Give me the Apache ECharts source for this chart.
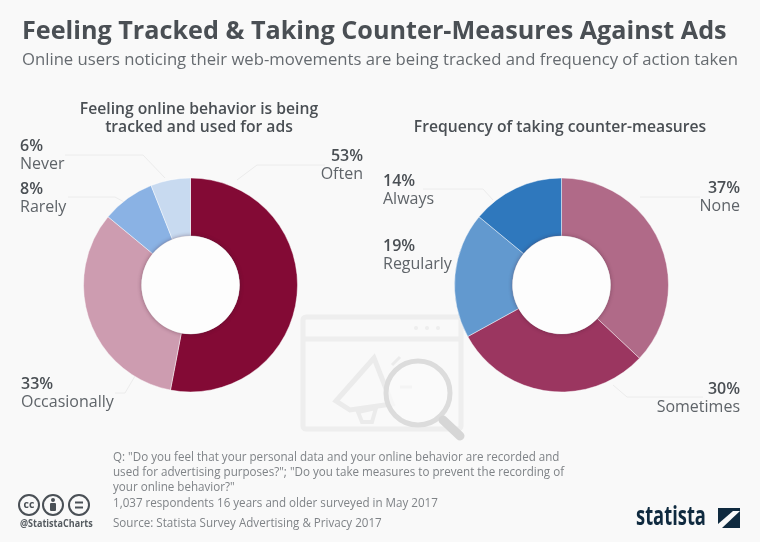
<!DOCTYPE html>
<html>
<head>
<meta charset="utf-8">
<style>html,body{margin:0;padding:0;background:#f9f9f9}#main{width:760px;height:542px}</style>
<script src="https://cdn.jsdelivr.net/npm/echarts@6/dist/echarts.min.js"></script>
</head>
<body>
<div id="main"></div>
<script>
const trackedNames = ['Often', 'Occasionally', 'Rarely', 'Never']
const trackedValues = [53, 33, 8, 6]
const measureNames = ['None', 'Sometimes', 'Regularly', 'Always']
const measureValues = [37, 30, 19, 14]

const trackedColors = ['#830a35', '#cd9cb0', '#8ab2e4', '#c8daf0']
const measureColors = ['#b06a88', '#9b3660', '#6299cf', '#2f78bd']

// label anchor + leader line for each slice
const trackedLabels = [
  { x: 363, y: 165, align: 'right', line: [[237, 180], [257, 165], [325, 165]] },
  { x: 21, y: 393, align: 'left', line: [[135, 376], [125, 393], [115, 393]] },
  { x: 20, y: 198, align: 'left', line: [[126, 203], [115, 197], [68, 197]] },
  { x: 20, y: 155, align: 'left', line: [[165, 178], [143, 155], [65, 155]] },
]
const measureLabels = [
  { x: 740, y: 197, align: 'right', line: [[640, 197], [660, 197], [700, 197]] },
  { x: 740, y: 398, align: 'right', line: [[613, 385], [627, 397], [703, 397]] },
  { x: 383, y: 255, align: 'left', line: [[452, 255], [452, 255], [452, 255]] },
  { x: 383, y: 190, align: 'left', line: [[493, 200], [483, 189], [423, 189]] },
]

const font = '"Open Sans"'

function pieSeries(names, values, colors, labels, cx) {
  return {
    type: 'pie',
    center: [cx, 285],
    radius: [49, 107],
    startAngle: 90,
    clockwise: true,
    silent: true,
    avoidLabelOverlap: false,
    data: names.map((name, i) => ({ name, value: values[i], itemStyle: { color: colors[i] } })),
    itemStyle: { borderColor: 'rgba(255,255,255,0.45)', borderWidth: 1 },
    label: {
      formatter: (p) => '{v|' + p.value + '%}\n{n|' + p.name + '}',
      rich: {
        v: { fontFamily: font, fontSize: 16, fontWeight: 600, color: '#4a4f54', lineHeight: 18 },
        n: { fontFamily: font, fontSize: 16, color: '#5f6469', lineHeight: 18 },
      },
    },
    labelLine: { show: true, lineStyle: { color: '#ececec', width: 1 } },
    labelLayout: (p) => {
      const l = labels[p.dataIndex]
      return { x: l.x, y: l.y, align: l.align, verticalAlign: 'middle', labelLinePoints: l.line }
    },
    z: 3,
  }
}

// white hole with the soft inner shadow
function hole(cx) {
  return {
    type: 'circle', z: 5, silent: true,
    shape: { cx, cy: 285, r: 49 },
    style: { fill: '#fdfdfd', shadowBlur: 4, shadowColor: 'rgba(60,20,40,0.45)' },
  }
}

const iconGrey = '#eeeeee'
const backIcon = [
  { type: 'rect', shape: { x: 303, y: 317, width: 158, height: 112, r: 3 }, style: { fill: 'none', stroke: iconGrey, lineWidth: 5 } },
  { type: 'line', shape: { x1: 303, y1: 339, x2: 461, y2: 339 }, style: { stroke: iconGrey, lineWidth: 5 } },
  { type: 'circle', shape: { cx: 416, cy: 328, r: 2 }, style: { fill: iconGrey } },
  { type: 'circle', shape: { cx: 427, cy: 328, r: 2 }, style: { fill: iconGrey } },
  { type: 'circle', shape: { cx: 438, cy: 328, r: 2 }, style: { fill: iconGrey } },
  { type: 'polygon', shape: { points: [[336, 401], [374, 358], [392, 404], [350, 410]] }, style: { fill: 'none', stroke: '#ebebeb', lineWidth: 5 } },
  { type: 'polygon', shape: { points: [[358, 412], [376, 408], [372, 422], [362, 422]] }, style: { fill: 'none', stroke: '#ebebeb', lineWidth: 4 } },
  { type: 'line', shape: { x1: 392, y1: 365, x2: 400, y2: 357 }, style: { stroke: '#ebebeb', lineWidth: 3 } },
  { type: 'line', shape: { x1: 400, y1: 387, x2: 412, y2: 387 }, style: { stroke: '#e2e2e2', lineWidth: 3 } },
  { type: 'circle', shape: { cx: 418, cy: 393, r: 32 }, style: { fill: 'rgba(250,250,250,0.75)', stroke: '#dcdcdc', lineWidth: 5 } },
  { type: 'line', shape: { x1: 443, y1: 420, x2: 460, y2: 436 }, style: { stroke: '#d6d6d6', lineWidth: 9, lineCap: 'round' } },
].map((g) => ({ ...g, z: 1, silent: true }))

function text(x, y, str, size, color, extra, scaleX) {
  return {
    type: 'text', x, y, z: 6, silent: true, scaleX: scaleX || 1,
    style: Object.assign({ text: str, fontFamily: font, fontSize: size, fill: color, verticalAlign: 'middle' }, extra),
  }
}

// source font is a condensed cut, squeeze Open Sans to get there
const footSize = 13.5
const footSqueeze = 0.86
const footColor = '#7f8387'
const footer = [
  text(113, 457, 'Q: "Do you feel that your personal data and your online behavior are recorded and', footSize, footColor, {}, footSqueeze),
  text(113, 472, 'used for advertising purposes?"; "Do you take measures to prevent the recording of', footSize, footColor, {}, footSqueeze),
  text(113, 487, 'your online behavior?"', footSize, footColor, {}, footSqueeze),
  text(113, 503, '1,037 respondents 16 years and older surveyed in May 2017', footSize, footColor, {}, footSqueeze),
  text(113, 523, 'Source: Statista Survey Advertising & Privacy 2017', footSize, footColor, {}, footSqueeze),
  text(20, 524, '@StatistaCharts', 10.5, '#555b60', { fontWeight: 700 }, 0.86),
]

// cc / by / nd badges
const badges = [29, 53, 79].map((cx) => ({
  type: 'circle', z: 6, silent: true, shape: { cx, cy: 505, r: 10 },
  style: { fill: 'none', stroke: '#4a5056', lineWidth: 2 },
}))
const badgeMarks = [
  text(29, 505, 'cc', 10.5, '#4a5056', { fontWeight: 700, align: 'center' }),
  { type: 'circle', z: 6, silent: true, shape: { cx: 53, cy: 500, r: 2 }, style: { fill: '#4a5056' } },
  { type: 'rect', z: 6, silent: true, shape: { x: 50, y: 503, width: 6, height: 8, r: 1 }, style: { fill: '#4a5056' } },
  { type: 'rect', z: 6, silent: true, shape: { x: 75, y: 501.5, width: 8, height: 2 }, style: { fill: '#4a5056' } },
  { type: 'rect', z: 6, silent: true, shape: { x: 75, y: 506.5, width: 8, height: 2 }, style: { fill: '#4a5056' } },
]

const logo = [
  text(636, 517, 'statista', 27, '#0f2a3f', { fontWeight: 700 }, 0.68),
  { type: 'rect', z: 6, silent: true, shape: { x: 718, y: 508, width: 22, height: 20 }, style: { fill: '#0f2a3f' } },
  { type: 'polygon', z: 7, silent: true, shape: { points: [[718, 524], [733, 511], [740, 511], [722, 528], [718, 528]] }, style: { fill: '#f9f9f9' } },
]

const chart = echarts.init(document.getElementById('main'))
chart.setOption({
  backgroundColor: '#f9f9f9',
  animation: false,
  series: [
    pieSeries(trackedNames, trackedValues, trackedColors, trackedLabels, 190.5),
    pieSeries(measureNames, measureValues, measureColors, measureLabels, 561.5),
  ],
  graphic: [
    ...backIcon,
    hole(190.5),
    hole(561.5),
    text(22, 32, 'Feeling Tracked & Taking Counter-Measures Against Ads', 25.2, '#4a4f54', { fontWeight: 700 }),
    text(22, 60, 'Online users noticing their web-movements are being tracked and frequency of action taken', 16.7, '#666b70'),
    text(199, 110, 'Feeling online behavior is being', 15.7, '#4a4f54', { fontWeight: 600, align: 'center' }),
    text(199, 128, 'tracked and used for ads', 15.7, '#4a4f54', { fontWeight: 600, align: 'center' }),
    text(560, 128, 'Frequency of taking counter-measures', 15.7, '#4a4f54', { fontWeight: 600, align: 'center' }),
    ...footer,
    ...badges,
    ...badgeMarks,
    ...logo,
  ],
})
</script>
</body>
</html>
